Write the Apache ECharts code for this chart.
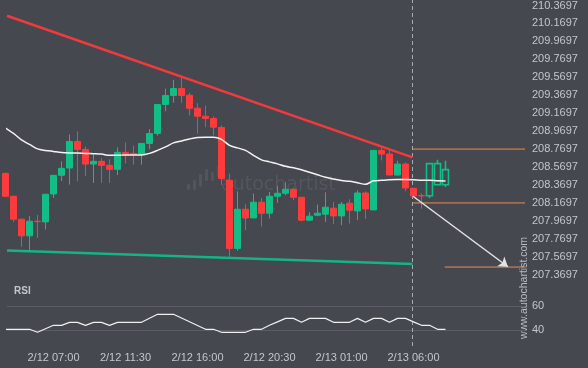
<!DOCTYPE html>
<html>
<head>
<meta charset="utf-8">
<script src="https://cdn.jsdelivr.net/npm/echarts@6/dist/echarts.min.js"></script>
<style>
html,body{margin:0;padding:0;background:#45484e;}
#c{width:588px;height:368px;}
</style>
</head>
<body>
<div id="c"></div>
<script>
// ---- data (candle index k; first candle index = firstIndex) ----
const firstIndex = -1;
const opens = [208.4997,208.2441,207.9886,207.8030,207.9663,207.9586,208.2697,208.4775,208.5586,208.8552,
  208.7663,208.6030,208.6330,208.5886,208.5441,208.7330,208.7219,208.7108,208.8330,208.9441,
  209.2663,209.3663,209.4441,209.3697,209.2252,209.1363,209.1108,209.0108,208.4219,207.6630,
  208.0997,208.0030,208.1775,208.0552,208.2441,208.2775,208.3219,208.2330,207.9775,208.0330,
  208.0441,208.1108,208.0252,208.1663,208.0808,208.2808,208.0919,208.7552,208.7141,208.4808,
  208.6030,208.3330,208.2519,208.2497,208.6075,208.3719];
const closes = [208.2441,207.9886,207.8030,207.9663,207.9608,208.2663,208.4775,208.5552,208.8552,208.7663,
  208.6030,208.6330,208.5886,208.5441,208.7330,208.7030,208.7108,208.8330,208.9441,209.2663,
  209.3663,209.4441,209.3663,209.2252,209.1363,209.1108,209.0141,208.4408,207.6630,208.0997,
  208.0030,208.1775,208.0552,208.2441,208.2775,208.3219,208.2330,207.9775,208.0219,208.0552,
  208.1219,208.0252,208.1552,208.0886,208.2808,208.1030,208.7552,208.7141,208.4808,208.6030,
  208.3363,208.2475,208.2475,208.6075,208.3719,208.5408];
const lows = [208.2400,207.9552,207.6808,207.6441,207.7808,207.8741,208.2252,208.4141,208.3741,208.4108,
  208.4697,208.3919,208.3919,208.3919,208.4808,208.6100,208.5963,208.5963,208.7697,208.9186,
  209.1919,209.2852,209.2852,209.1441,208.9408,209.0141,208.9219,208.3700,207.5697,207.6363,
  207.8663,208.0000,207.9075,207.9963,208.1697,208.2552,208.1997,207.9663,207.9663,208.0219,
  207.9586,207.9330,207.9219,207.9408,207.9775,207.9919,208.0886,208.6441,208.4775,208.4775,
  208.2997,208.2441,208.1052,208.2252,208.3719,208.3475];
const highs = [208.4997,208.2441,207.9963,208.0219,208.0363,208.2663,208.4775,208.6330,208.9330,208.9663,
  208.7997,208.7108,208.6663,208.6552,208.7886,208.8441,208.8075,208.8330,208.9919,209.2663,
  209.4441,209.5408,209.5663,209.3963,209.2808,209.2552,209.1330,209.0330,208.4963,208.2997,
  208.1552,208.2741,208.2252,208.2919,208.3586,208.3997,208.3330,208.2330,208.0663,208.1519,
  208.2886,208.1808,208.1808,208.2108,208.3108,208.2997,208.7552,208.7919,208.7608,208.6408,
  208.6219,208.3330,208.2775,208.6075,208.6497,208.6408];
const projected = [52,53,54];   // hollow (forecast) candles
const maLine = [209.0052,208.9441,208.8719,208.8219,208.7719,208.7552,208.7441,208.7330,208.7275,208.7253,
  208.7219,208.7186,208.7141,208.6997,208.6997,208.7052,208.7052,208.7052,208.7219,208.7552,
  208.7941,208.8386,208.8608,208.8830,208.8997,208.9030,208.9030,208.8775,208.8108,208.7830,
  208.7552,208.6997,208.6497,208.6275,208.6052,208.5775,208.5608,208.5386,208.5108,208.4830,
  208.4552,208.4364,208.4197,208.4108,208.3941,208.3775,208.4163,208.4219,208.4275,208.4297,
  208.4297,208.4275,208.4219,208.4219,208.4163,208.4141];
const rsi = [40.6,40.6,40.6,40.6,38.1,41.0,43.9,43.9,46.4,46.4,
  43.9,46.4,46.4,43.9,46.4,46.4,46.4,46.4,49.8,53.1,
  53.1,53.1,50.0,46.9,43.8,40.6,40.6,38.1,38.1,38.1,
  38.1,40.6,40.6,43.9,46.8,49.7,49.7,46.4,49.7,49.7,
  49.7,46.4,46.4,46.4,49.7,46.4,49.7,49.7,46.4,49.7,
  49.7,46.8,43.9,43.9,40.6,40.6];
const resistance = [[-0.8125,210.2552],[49.875,208.6775]];
const support = [[-0.8125,207.6404],[49.875,207.4886]];
const patternEnd = 49.875;
const levels = [208.7697,208.1697,207.4552];
const levelStarts = [49.875,49.875,53.9];
const arrowFrom = [49.94,208.2441];
const arrowTo = [61.8,207.4586];
const pointA = [47.3,208.835];
const xTickIdx = [5,14,23,32,41,50];
const xTickText = ['2/12 07:00','2/12 11:30','2/12 16:00','2/12 20:30','2/13 01:00','2/13 06:00'];
const yTicks = [210.3697,210.1697,209.9697,209.7697,209.5697,209.3697,209.1697,208.9697,
  208.7697,208.5697,208.3697,208.1697,207.9697,207.7697,207.5697,207.3697];
const rsiTicks = [40,60];

// ---- chart ----
const GREEN = '#12bd86', RED = '#fd3b3d', ORANGE = '#ef8a4c', TXT = '#c3c6cb';
const FONT = 'Liberation Sans, Arial, sans-serif';
const X_MIN = -0.8125, X_MAX = 63.9375;
const Y_MIN = 207.2219, Y_MAX = 210.4219;

const candleData = opens.map((o, i) => {
  const k = firstIndex + i;
  const item = { value: [k, o, closes[i], lows[i], highs[i]] };
  if (projected.indexOf(k) >= 0) {
    item.itemStyle = { color: 'transparent', color0: 'transparent', borderColor: GREEN, borderColor0: RED, borderWidth: 1.6 };
  }
  return item;
});
const idx = arr => arr.map((v, i) => [firstIndex + i, v]);

const levelSeries = levels.map((lv, i) => ({
  type: 'line', xAxisIndex: 0, yAxisIndex: 0, showSymbol: false, silent: true, z: 4,
  data: [[levelStarts[i], lv], [X_MAX, lv]],
  lineStyle: { color: ORANGE, width: 1 }
}));

const chart = echarts.init(document.getElementById('c'), null, { renderer: 'canvas' });
chart.setOption({
  backgroundColor: '#45484e',
  animation: false,
  title: { text: 'RSI', left: 14, top: 286, padding: 0,
    textStyle: { color: TXT, fontSize: 10, fontWeight: 'bold', fontFamily: FONT } },
  grid: [
    { left: 7, top: 0, width: 518, height: 288 },
    { left: 7, top: 306, width: 518, height: 24 },
    { left: 7, top: 0, width: 518, height: 346 }
  ],
  xAxis: [
    { gridIndex: 0, type: 'value', min: X_MIN, max: X_MAX, show: false },
    { gridIndex: 1, type: 'value', min: X_MIN, max: X_MAX,
      axisLine: { show: false }, axisTick: { show: false }, splitLine: { show: false },
      axisLabel: { customValues: xTickIdx, formatter: v => xTickText[xTickIdx.indexOf(v)],
        color: TXT, fontSize: 11, margin: 22, fontFamily: FONT } },
    { gridIndex: 2, type: 'value', min: X_MIN, max: X_MAX, show: false }
  ],
  yAxis: [
    { gridIndex: 0, type: 'value', position: 'right', min: Y_MIN, max: Y_MAX,
      splitLine: { show: false }, axisLine: { show: false }, axisTick: { show: false },
      axisLabel: { customValues: yTicks, formatter: v => v.toFixed(4), color: TXT, fontSize: 11, margin: 7, fontFamily: FONT } },
    { gridIndex: 1, type: 'value', position: 'right', min: rsiTicks[0], max: rsiTicks[1], interval: 20,
      splitLine: { show: true, lineStyle: { color: '#5a5e64', width: 1 } },
      axisLine: { show: false },
      axisTick: { show: true, length: 6, lineStyle: { color: '#5a5e64' } },
      axisLabel: { color: TXT, fontSize: 11, margin: 7, fontFamily: FONT } },
    { gridIndex: 2, type: 'value', min: 0, max: 1, show: false }
  ],
  graphic: [
    { type: 'group', z: 0, silent: true, children: [
      { type: 'rect', shape: { x: 187, y: 184, width: 3, height: 6, r: 1 }, style: { fill: '#52565c' } },
      { type: 'rect', shape: { x: 193, y: 180, width: 3, height: 10, r: 1 }, style: { fill: '#52565c' } },
      { type: 'rect', shape: { x: 199, y: 174, width: 3, height: 13, r: 1 }, style: { fill: '#52565c' } },
      { type: 'rect', shape: { x: 205, y: 169, width: 3, height: 12, r: 1 }, style: { fill: '#52565c' } },
      { type: 'rect', shape: { x: 211, y: 172, width: 3, height: 9, r: 1 }, style: { fill: '#52565c' } },
      { type: 'rect', shape: { x: 217, y: 166, width: 3, height: 11, r: 1 }, style: { fill: '#52565c' } },
      { type: 'text', x: 221, y: 185, style: { text: 'autochartist', fill: '#53575d', font: '19px DejaVu Sans', verticalAlign: 'middle' } }
    ] },
    { type: 'text', x: 524, y: 288, rotation: Math.PI / 2, silent: true,
      style: { text: 'www.autochartist.com', fill: '#b9bcc1', font: '10.5px Liberation Sans', align: 'center', verticalAlign: 'middle' } }
  ],
  series: [
    { type: 'line', xAxisIndex: 2, yAxisIndex: 2, showSymbol: false, silent: true, z: 1,
      data: [[patternEnd, 0], [patternEnd, 1]],
      lineStyle: { color: '#a7aab0', width: 1, type: [4, 3] } },
    { type: 'candlestick', xAxisIndex: 0, yAxisIndex: 0, barWidth: 6.7, z: 3, clip: true,
      data: candleData,
      itemStyle: { color: GREEN, color0: RED, borderColor: GREEN, borderColor0: RED, borderWidth: 1 } },
    { type: 'line', xAxisIndex: 0, yAxisIndex: 0, showSymbol: false, smooth: 0.3, z: 5,
      data: idx(maLine), lineStyle: { color: '#f4f4f4', width: 1.5 } },
    { type: 'line', xAxisIndex: 0, yAxisIndex: 0, showSymbol: false, z: 6,
      data: resistance, lineStyle: { color: '#f23a3d', width: 2.5 } },
    { type: 'line', xAxisIndex: 0, yAxisIndex: 0, showSymbol: false, z: 6,
      data: support, lineStyle: { color: '#14b585', width: 2.5 } },
    ...levelSeries,
    { type: 'line', xAxisIndex: 0, yAxisIndex: 0, showSymbol: false, z: 6, silent: true,
      data: [arrowFrom, arrowTo], lineStyle: { opacity: 0 },
      markLine: { silent: true, symbol: ['none', 'arrow'], symbolSize: 9, label: { show: false },
        lineStyle: { color: '#e4e4e4', width: 1.5, type: 'solid' },
        data: [[{ coord: arrowFrom }, { coord: arrowTo }]] } },
    { type: 'scatter', xAxisIndex: 0, yAxisIndex: 0, symbolSize: 1, z: 7,
      itemStyle: { opacity: 0 },
      data: [pointA],
      label: { show: true, formatter: 'A', position: 'inside', color: ORANGE, fontSize: 12, fontFamily: FONT } },
    { type: 'line', xAxisIndex: 1, yAxisIndex: 1, showSymbol: false, clip: false, z: 5,
      data: idx(rsi), lineStyle: { color: '#f0f0f0', width: 1.2 } }
  ]
});
</script>
</body>
</html>
